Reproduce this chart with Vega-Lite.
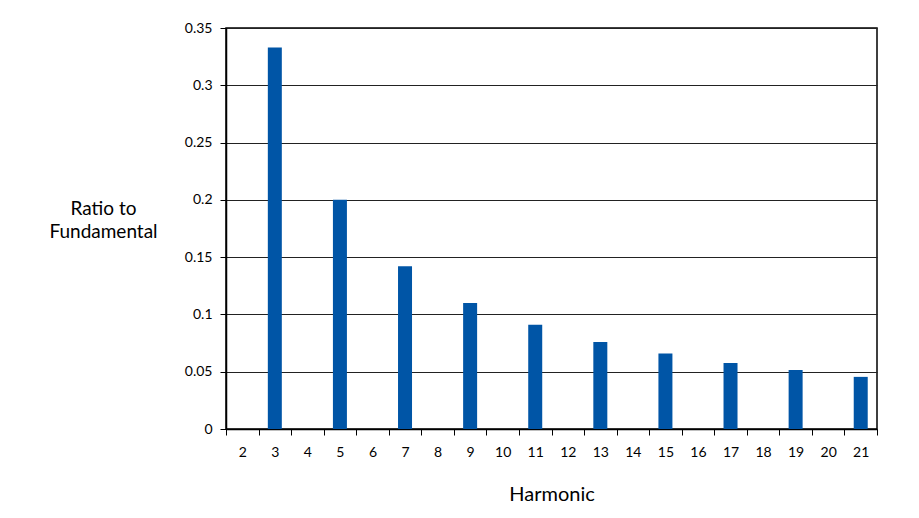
{
  "$schema": "https://vega.github.io/schema/vega-lite/v6.json",
  "autosize": "none",
  "width": 651,
  "height": 401,
  "padding": {"left": 226, "top": 28, "right": 42, "bottom": 89},
  "background": "white",
  "data": {
    "values": [
      {"harmonic": 2, "ratio": 0},
      {"harmonic": 3, "ratio": 0.333},
      {"harmonic": 4, "ratio": 0},
      {"harmonic": 5, "ratio": 0.2},
      {"harmonic": 6, "ratio": 0},
      {"harmonic": 7, "ratio": 0.142},
      {"harmonic": 8, "ratio": 0},
      {"harmonic": 9, "ratio": 0.11},
      {"harmonic": 10, "ratio": 0},
      {"harmonic": 11, "ratio": 0.091},
      {"harmonic": 12, "ratio": 0},
      {"harmonic": 13, "ratio": 0.076},
      {"harmonic": 14, "ratio": 0},
      {"harmonic": 15, "ratio": 0.066},
      {"harmonic": 16, "ratio": 0},
      {"harmonic": 17, "ratio": 0.0576},
      {"harmonic": 18, "ratio": 0},
      {"harmonic": 19, "ratio": 0.0515},
      {"harmonic": 20, "ratio": 0},
      {"harmonic": 21, "ratio": 0.0455}
    ]
  },
  "mark": {"type": "bar", "color": "#0055A6", "width": {"band": 0.43}},
  "encoding": {
    "x": {
      "field": "harmonic",
      "type": "ordinal",
      "scale": {"paddingInner": 0, "paddingOuter": 0},
      "axis": {
        "title": "Harmonic",
        "labelAngle": 0,
        "labelFont": "Lato",
        "labelFontSize": 14,
        "labelColor": "#000",
        "labelPadding": 10,
        "tickBand": "extent",
        "tickColor": "#000",
        "tickSize": 6,
        "domainColor": "#000",
        "domainWidth": 1.5,
        "grid": false,
        "titleFont": "Lato",
        "titleFontSize": 20,
        "titleFontWeight": "normal",
        "titleColor": "#000",
        "titlePadding": 25
      }
    },
    "y": {
      "field": "ratio",
      "type": "quantitative",
      "scale": {"domain": [0, 0.35]},
      "axis": {
        "values": [0, 0.05, 0.1, 0.15, 0.2, 0.25, 0.3, 0.35],
        "format": ".2~f",
        "title": ["Ratio to", "Fundamental"],
        "titleAngle": 0,
        "titleAlign": "center",
        "titleBaseline": "middle",
        "titleX": -123,
        "titleY": 180,
        "titleFont": "Lato",
        "titleFontSize": 19,
        "titleFontWeight": "normal",
        "titleColor": "#000",
        "titleLineHeight": 23,
        "labelFont": "Lato",
        "labelFontSize": 14,
        "labelColor": "#000",
        "labelPadding": 8,
        "tickColor": "#000",
        "tickSize": 6,
        "domainColor": "#000",
        "domainWidth": 1.5,
        "grid": true,
        "gridColor": "#222",
        "gridWidth": 1
      }
    }
  },
  "config": {
    "view": {"stroke": "#000", "strokeWidth": 1.5}
  }
}
